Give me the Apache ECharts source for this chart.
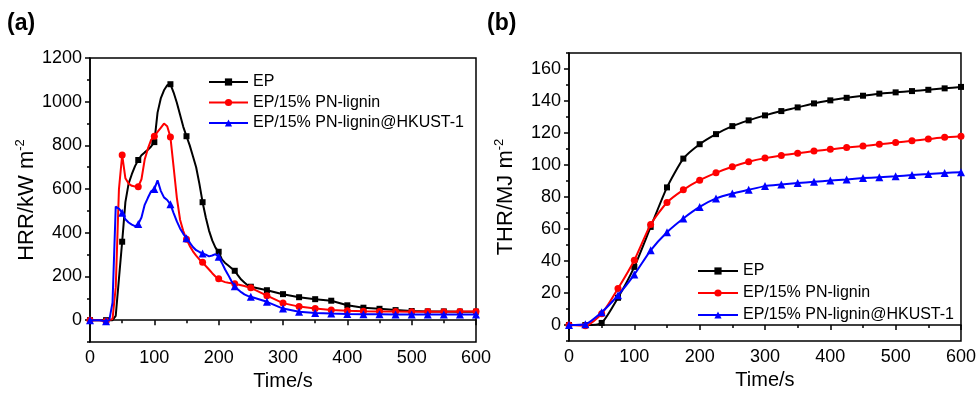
<!DOCTYPE html>
<html>
<head>
<meta charset="utf-8">
<script src="https://cdn.jsdelivr.net/npm/echarts@6/dist/echarts.min.js"></script>
<style>html,body{margin:0;padding:0;background:#fff;}#c{width:979px;height:402px;}</style>
</head>
<body>
<div id="c"></div>
<script>
// ---- Data (a): Heat release rate ----
const hrrTime = [0,5,10,15,20,25,30,35,40,45,50,55,60,65,70,75,80,85,90,95,100,105,110,115,120,125,130,135,140,145,150,155,160,165,170,175,180,185,190,195,200,205,210,215,220,225,230,235,240,245,250,275,300,325,350,375,400,425,450,475,500,525,550,575,600];
const hrrEP = [0,0,0,0,0,0,0,0,20,190,
  359,540,625,668,705,733,755,768,780,795,
  815,950,1015,1052,1075,1080,1042,995,940,885,
  842,800,750,700,625,540,470,410,365,332,
  313,278,262,250,238,226,205,186,172,160,
  153,
  137,119,105,96,89,68,57,52,46,42,40,40,39,39];
const hrrPN = [0,0,0,0,-3,-5,0,5,150,600,
  756,650,625,615,612,611,645,735,785,825,
  842,862,880,900,888,838,700,560,460,408,
  370,340,315,295,278,265,248,232,215,200,
  190,180,174,171,169,167,163,160,156,152,
  148,
  112,78,62,53,46,43,41,40,40,39,40,39,40,40];
const hrrHK = [0,0,0,0,-3,-5,0,80,520,510,
  492,462,447,437,430,440,470,528,560,590,
  600,640,592,562,550,530,490,452,420,395,
  375,355,335,320,312,305,300,292,296,302,
  290,262,232,206,178,155,140,128,118,111,
  107,
  84,53,38,33,30,28,27,27,26,26,26,26,26,26];

// ---- Data (b): Total heat release ----
const thrTime = [0,25,50,75,100,125,150,175,200,225,250,275,300,325,350,375,400,425,450,475,500,525,550,575,600];
const thrEP = [0,0,1.3,17,36.3,61.3,86,104,113,119.3,124.3,127.9,131,133.7,136,138.5,140.4,142,143.3,144.6,145.4,146.2,147,147.9,148.8];
const thrPN = [0,-0.5,7,22.8,40.5,62.8,76.6,84.5,90.5,95.1,98.9,102,104.3,106,107.3,108.7,109.8,111,111.8,112.9,114.1,115.1,116.2,117.3,118];
const thrHK = [0,0.5,8,18.6,31.5,46.7,58,66.6,73.8,79.1,82.2,84.5,86.8,87.8,88.7,89.5,90.3,91,91.8,92.4,93,93.7,94.3,95,95.5];

const seriesNames = ['EP', 'EP/15% PN-lignin', 'EP/15% PN-lignin@HKUST-1'];
const xTicks = [0,100,200,300,400,500,600];
const hrrYTicks = [0,200,400,600,800,1000,1200];
const thrYTicks = [0,20,40,60,80,100,120,140,160];

const FONT = '"Liberation Sans", Arial, Helvetica, sans-serif';
const colors = ['#000000', '#ff0000', '#0000ff'];
const symbols = ['rect', 'circle', 'triangle'];
const symSizes = [6, 7, 8];

function markerData(times, vals) {
  return times.map((t, i) => {
    const d = { value: [t, vals[i]] };
    if (t % 25 !== 0) d.symbol = 'none';
    return d;
  });
}

const axisLineStyle = { color: '#000', width: 1.5 };
const plain = v => String(v);

function xAxisOf(gi) {
  return {
    gridIndex: gi, type: 'value', min: 0, max: 600, interval: 100,
    name: 'Time/s', nameLocation: 'middle', nameGap: 27,
    nameTextStyle: { fontSize: 20, color: '#000', fontFamily: FONT },
    axisLine: { show: true, lineStyle: axisLineStyle },
    axisTick: { show: true, length: 5, lineStyle: axisLineStyle },
    minorTick: { show: true, splitNumber: 2, length: 3, lineStyle: { color: '#000', width: 1.5 } },
    axisLabel: { fontSize: 18, color: '#000', fontFamily: FONT, margin: 7, formatter: plain },
    splitLine: { show: false }
  };
}

const chart = echarts.init(document.getElementById('c'), null, { renderer: 'canvas' });
const option = {
  animation: false,
  backgroundColor: '#fff',
  textStyle: { fontFamily: FONT },
  grid: [
    { left: 90, top: 58, width: 386, height: 284, show: true, borderColor: '#000', borderWidth: 1.5, backgroundColor: 'transparent' },
    { left: 569, top: 53, width: 392, height: 288, show: true, borderColor: '#000', borderWidth: 1.5, backgroundColor: 'transparent' }
  ],
  graphic: [
    { type: 'text', left: 7, top: 12, style: { text: '(a)', font: 'bold 23px ' + FONT, fill: '#000' } },
    { type: 'text', left: 487, top: 12, style: { text: '(b)', font: 'bold 23px ' + FONT, fill: '#000' } }
  ],
  legend: [
    {
      orient: 'vertical', left: 208, top: 74, padding: 0, itemWidth: 39, itemHeight: 9, itemGap: 4.5,
      data: seriesNames.map(n => ({ name: n })),
      textStyle: { fontSize: 16, color: '#000', fontFamily: FONT, lineHeight: 16 },
      selectedMode: false
    },
    {
      orient: 'vertical', left: 697, top: 263, padding: 0, itemWidth: 40, itemHeight: 9, itemGap: 6,
      data: seriesNames.map(n => ({ name: n + ' ' })),
      textStyle: { fontSize: 16, color: '#000', fontFamily: FONT, lineHeight: 16 },
      formatter: n => n.trim(),
      selectedMode: false
    }
  ],
  xAxis: [xAxisOf(0), xAxisOf(1)],
  yAxis: [
    {
      gridIndex: 0, type: 'value', min: -100, max: 1200,
      name: '{m|HRR/kW m}{s|-2}', nameLocation: 'middle', nameRotate: 90, nameGap: 46,
      nameTextStyle: { color: '#000', fontFamily: FONT, rich: { m: { fontSize: 22, lineHeight: 26, fontFamily: FONT }, s: { fontSize: 13, lineHeight: 26, verticalAlign: 'top', fontFamily: FONT } } },
      axisLine: { show: true, lineStyle: axisLineStyle },
      axisTick: { show: true, length: 5, lineStyle: axisLineStyle, customValues: hrrYTicks },
      axisLabel: { fontSize: 18, color: '#000', fontFamily: FONT, margin: 8, customValues: hrrYTicks, formatter: plain },
      splitLine: { show: false }
    },
    {
      gridIndex: 0, type: 'value', min: -100, max: 1200, interval: 100, position: 'left',
      axisLine: { show: false }, axisLabel: { show: false }, splitLine: { show: false },
      axisTick: { show: true, length: 3, lineStyle: axisLineStyle }
    },
    {
      gridIndex: 1, type: 'value', min: -10, max: 170,
      name: '{m|THR/MJ m}{s|-2}', nameLocation: 'middle', nameRotate: 90, nameGap: 50,
      nameTextStyle: { color: '#000', fontFamily: FONT, rich: { m: { fontSize: 22, lineHeight: 26, fontFamily: FONT }, s: { fontSize: 13, lineHeight: 26, verticalAlign: 'top', fontFamily: FONT } } },
      axisLine: { show: true, lineStyle: axisLineStyle },
      axisTick: { show: true, length: 5, lineStyle: axisLineStyle, customValues: thrYTicks },
      axisLabel: { fontSize: 18, color: '#000', fontFamily: FONT, margin: 8, customValues: thrYTicks, formatter: plain },
      splitLine: { show: false }
    },
    {
      gridIndex: 1, type: 'value', min: -10, max: 170, interval: 10, position: 'left',
      axisLine: { show: false }, axisLabel: { show: false }, splitLine: { show: false },
      axisTick: { show: true, length: 3, lineStyle: axisLineStyle }
    }
  ],
  series: [
    ...[hrrEP, hrrPN, hrrHK].map((vals, k) => ({
      name: seriesNames[k], type: 'line', xAxisIndex: 0, yAxisIndex: 0,
      data: markerData(hrrTime, vals),
      symbol: symbols[k], symbolSize: symSizes[k], showAllSymbol: true,
      lineStyle: { color: colors[k], width: 2 },
      itemStyle: { color: colors[k] },
      z: 3 + k
    })),
    ...[thrEP, thrPN, thrHK].map((vals, k) => ({
      name: seriesNames[k] + ' ', type: 'line', xAxisIndex: 1, yAxisIndex: 2,
      data: thrTime.map((t, i) => [t, vals[i]]),
      symbol: symbols[k], symbolSize: symSizes[k], showAllSymbol: true, smooth: 0.2,
      lineStyle: { color: colors[k], width: 2 },
      itemStyle: { color: colors[k] },
      z: 3 + k
    }))
  ]
};
chart.setOption(option);
</script>
</body>
</html>
